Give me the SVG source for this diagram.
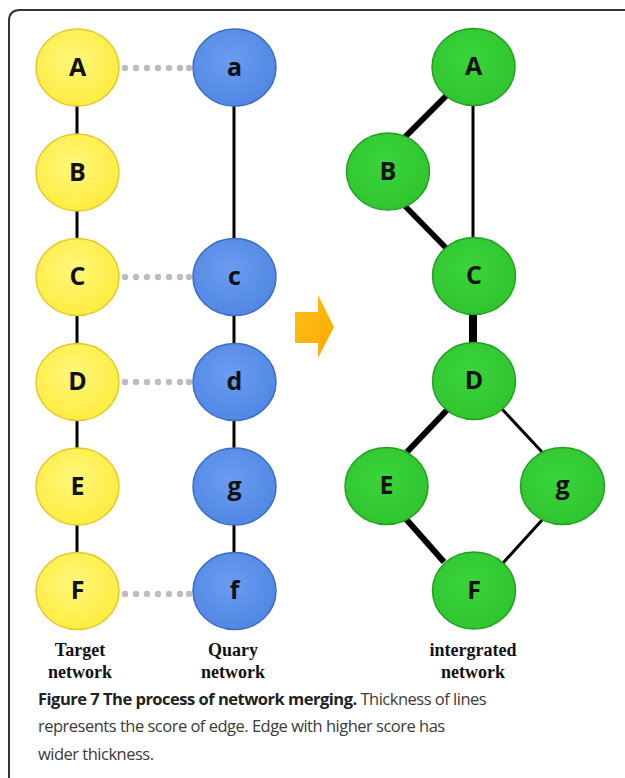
<svg xmlns="http://www.w3.org/2000/svg" width="625" height="778" viewBox="0 0 625 778">
<defs>
<radialGradient id="gy" cx="0.45" cy="0.4" r="0.65">
<stop offset="0" stop-color="#FFF77A"/><stop offset="1" stop-color="#FFEB3C"/>
</radialGradient>
<radialGradient id="gb" cx="0.45" cy="0.4" r="0.65">
<stop offset="0" stop-color="#6A9CF0"/><stop offset="1" stop-color="#4F86E3"/>
</radialGradient>
<radialGradient id="gg" cx="0.45" cy="0.4" r="0.65">
<stop offset="0" stop-color="#3BD43B"/><stop offset="1" stop-color="#2EC42E"/>
</radialGradient>
<linearGradient id="go" x1="0" y1="0" x2="1" y2="1">
<stop offset="0" stop-color="#FFC21A"/><stop offset="1" stop-color="#F9A800"/>
</linearGradient>
</defs>
<style>
.y{fill:url(#gy);stroke:#E6C82A;stroke-width:1.5}
.b{fill:url(#gb);stroke:#3D6DC0;stroke-width:1.5}
.g{fill:url(#gg);stroke:#22A022;stroke-width:1.5}
.lbl{font-family:"Open Sans",sans-serif;font-weight:bold;font-size:25px;fill:#111;text-anchor:middle}
.e{stroke:#000;stroke-linecap:butt}
.dot{fill:#BDBDBD}
.cap{font-family:"Liberation Serif",serif;font-weight:bold;font-size:18px;fill:#111;text-anchor:middle}
.fig{font-family:"Open Sans",sans-serif;font-size:16.5px;letter-spacing:-0.5px;fill:#3a3a3a}
.figb{font-weight:bold;fill:#222}
</style>
<path d="M625,10 L20,10 Q9,10 9,21 L9,778" fill="none" stroke="#333" stroke-width="2"/>

<g id="connectors">
<line class="e" x1="77" y1="105" x2="77" y2="136" stroke-width="3"/>
<line class="e" x1="77" y1="210" x2="77" y2="240" stroke-width="3"/>
<line class="e" x1="77" y1="315" x2="77" y2="345" stroke-width="3"/>
<line class="e" x1="77" y1="419" x2="77" y2="449" stroke-width="3"/>
<line class="e" x1="77" y1="524" x2="77" y2="553" stroke-width="3"/>
<line class="e" x1="234" y1="105" x2="234" y2="240" stroke-width="3"/>
<line class="e" x1="234" y1="315" x2="234" y2="345" stroke-width="3"/>
<line class="e" x1="234" y1="419" x2="234" y2="449" stroke-width="3"/>
<line class="e" x1="234" y1="524" x2="234" y2="553" stroke-width="3"/>
<g class="dot">
<circle cx="125" cy="68" r="3.2"/><circle cx="136" cy="68" r="3.2"/><circle cx="147" cy="68" r="3.2"/><circle cx="158" cy="68" r="3.2"/><circle cx="169" cy="68" r="3.2"/><circle cx="180" cy="68" r="3.2"/><circle cx="189" cy="68" r="3.2"/>
<circle cx="125" cy="277" r="3.2"/><circle cx="136" cy="277" r="3.2"/><circle cx="147" cy="277" r="3.2"/><circle cx="158" cy="277" r="3.2"/><circle cx="169" cy="277" r="3.2"/><circle cx="180" cy="277" r="3.2"/><circle cx="189" cy="277" r="3.2"/>
<circle cx="125" cy="382" r="3.2"/><circle cx="136" cy="382" r="3.2"/><circle cx="147" cy="382" r="3.2"/><circle cx="158" cy="382" r="3.2"/><circle cx="169" cy="382" r="3.2"/><circle cx="180" cy="382" r="3.2"/><circle cx="189" cy="382" r="3.2"/>
<circle cx="125" cy="594" r="3.2"/><circle cx="136" cy="594" r="3.2"/><circle cx="147" cy="594" r="3.2"/><circle cx="158" cy="594" r="3.2"/><circle cx="169" cy="594" r="3.2"/><circle cx="180" cy="594" r="3.2"/><circle cx="189" cy="594" r="3.2"/>
</g>
<line class="e" x1="447" y1="95" x2="404" y2="138" stroke-width="6"/>
<line class="e" x1="473" y1="105" x2="473" y2="238" stroke-width="3"/>
<line class="e" x1="405" y1="206" x2="447" y2="249" stroke-width="5.5"/>
<line class="e" x1="473" y1="314" x2="473" y2="344" stroke-width="8"/>
<line class="e" x1="447" y1="410" x2="407" y2="452" stroke-width="6"/>
<line class="e" x1="502" y1="409" x2="542" y2="452" stroke-width="3"/>
<line class="e" x1="406" y1="519" x2="444" y2="562" stroke-width="6"/>
<line class="e" x1="543" y1="519" x2="503" y2="563" stroke-width="3"/>
</g>

<g id="arrow">
<path d="M295,312 L318,312 L318,295 L334,327 L318,358 L318,343 L295,343 Z" fill="url(#go)"/>
</g>

<g id="nodeA"><ellipse class="y" cx="77.5" cy="67.5" rx="41.5" ry="38.5"/><text class="lbl" x="77.5" y="75.5">A</text></g>
<g id="nodeB"><ellipse class="y" cx="77.5" cy="172.5" rx="41.5" ry="38.5"/><text class="lbl" x="77.5" y="180.5">B</text></g>
<g id="nodeC"><ellipse class="y" cx="77.5" cy="277" rx="41.5" ry="38.5"/><text class="lbl" x="77.5" y="285">C</text></g>
<g id="nodeD"><ellipse class="y" cx="77.5" cy="382" rx="41.5" ry="38.5"/><text class="lbl" x="77.5" y="390">D</text></g>
<g id="nodeE"><ellipse class="y" cx="77.5" cy="486.5" rx="41.5" ry="38.5"/><text class="lbl" x="77.5" y="494.5">E</text></g>
<g id="nodeF"><ellipse class="y" cx="77.5" cy="591" rx="41.5" ry="38.5"/><text class="lbl" x="77.5" y="599">F</text></g>

<g id="nodea"><ellipse class="b" cx="234.5" cy="67.5" rx="41.5" ry="38.5"/><text class="lbl" x="234.5" y="75.5">a</text></g>
<g id="nodec"><ellipse class="b" cx="234.5" cy="277" rx="41.5" ry="38.5"/><text class="lbl" x="234.5" y="285">c</text></g>
<g id="noded"><ellipse class="b" cx="234.5" cy="382" rx="41.5" ry="38.5"/><text class="lbl" x="234.5" y="390">d</text></g>
<g id="nodeg"><ellipse class="b" cx="234.5" cy="486.5" rx="41.5" ry="38.5"/><text class="lbl" x="234.5" y="494.5">g</text></g>
<g id="nodef"><ellipse class="b" cx="234.5" cy="591" rx="41.5" ry="38.5"/><text class="lbl" x="234.5" y="599">f</text></g>

<g id="nodeA2"><ellipse class="g" cx="473.5" cy="67" rx="41.5" ry="38.5"/><text class="lbl" x="473.5" y="75">A</text></g>
<g id="nodeB2"><ellipse class="g" cx="388" cy="171.5" rx="41.5" ry="38.5"/><text class="lbl" x="388" y="179.5">B</text></g>
<g id="nodeC2"><ellipse class="g" cx="474" cy="276" rx="41.5" ry="38.5"/><text class="lbl" x="474" y="284">C</text></g>
<g id="nodeD2"><ellipse class="g" cx="474" cy="381" rx="41.5" ry="38.5"/><text class="lbl" x="474" y="389">D</text></g>
<g id="nodeE2"><ellipse class="g" cx="386.5" cy="486" rx="41.5" ry="38.5"/><text class="lbl" x="386.5" y="494">E</text></g>
<g id="nodeg2"><ellipse class="g" cx="562.5" cy="486" rx="42" ry="38.5"/><text class="lbl" x="562.5" y="494">g</text></g>
<g id="nodeF2"><ellipse class="g" cx="474" cy="590.5" rx="41.5" ry="38.5"/><text class="lbl" x="474" y="598.5">F</text></g>

<g id="labels">
<text class="cap" x="80" y="656">Target</text>
<text class="cap" x="80" y="678">network</text>
<text class="cap" x="233" y="656">Quary</text>
<text class="cap" x="233" y="678">network</text>
<text class="cap" x="473" y="656">intergrated</text>
<text class="cap" x="473" y="678">network</text>
</g>
<g id="caption">
<text class="fig" x="38" y="705"><tspan class="figb">Figure 7 The process of network merging.</tspan> Thickness of lines</text>
<text class="fig" x="38" y="732">represents the score of edge. Edge with higher score has</text>
<text class="fig" x="38" y="760">wider thickness.</text>
</g>
</svg>
